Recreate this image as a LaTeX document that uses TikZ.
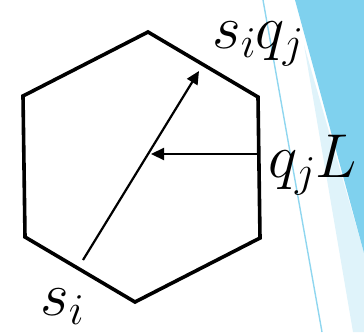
\RequirePackage{fix-cm}
\documentclass[tikz,border=0pt]{standalone}
\usetikzlibrary{arrows.meta}
\DeclareMathSizes{62}{62}{44}{34}
\definecolor{bluedark}{HTML}{7FD1EE}
\definecolor{bluelight}{HTML}{DFF3FA}
\definecolor{blueline}{HTML}{8FD6EF}
\tikzset{
  hexline/.style={line width=3.6pt, line join=miter},
  vec/.style={line width=2.2pt, -{Triangle[length=13pt,width=12pt]}},
  lab/.style={anchor=base west, inner sep=0pt, font=\fontsize{62}{66}\selectfont}
}
\begin{document}
\begin{tikzpicture}[x=1pt,y=-1pt]
\useasboundingbox (0,0) rectangle (364,332);
% background decoration
\fill[bluelight] (304,45) -- (364,253) -- (364,332) -- (353,332) -- cycle;
\fill[bluedark] (295,0) -- (364,0) -- (364,253) -- cycle;
\draw[blueline, line width=1.4pt] (263,0) -- (322,332);
% hexagon
\coordinate (t) at (148,32);
\coordinate (ur) at (258,97);
\coordinate (lr) at (260,238);
\coordinate (b) at (135,302);
\coordinate (ll) at (25,237);
\coordinate (ul) at (23,96);
\draw[hexline] (t) -- (ur) -- (lr) -- (b) -- (ll) -- (ul) -- cycle;
% vectors
\coordinate (si0) at (83,260);
\coordinate (siqj) at (199,71);
\coordinate (qjL0) at (258,154);
\coordinate (mid) at (151,154);
\draw[vec] (si0) -- (siqj);
\draw[vec] (qjL0) -- (mid);
% labels
\node[lab] (l1) at (212,48) {$s_i q_j$};
\node[lab] (l2) at (268,177) {$q_j L$};
\node[lab] (l3) at (40,315) {$s_i$};
\end{tikzpicture}
\end{document}
